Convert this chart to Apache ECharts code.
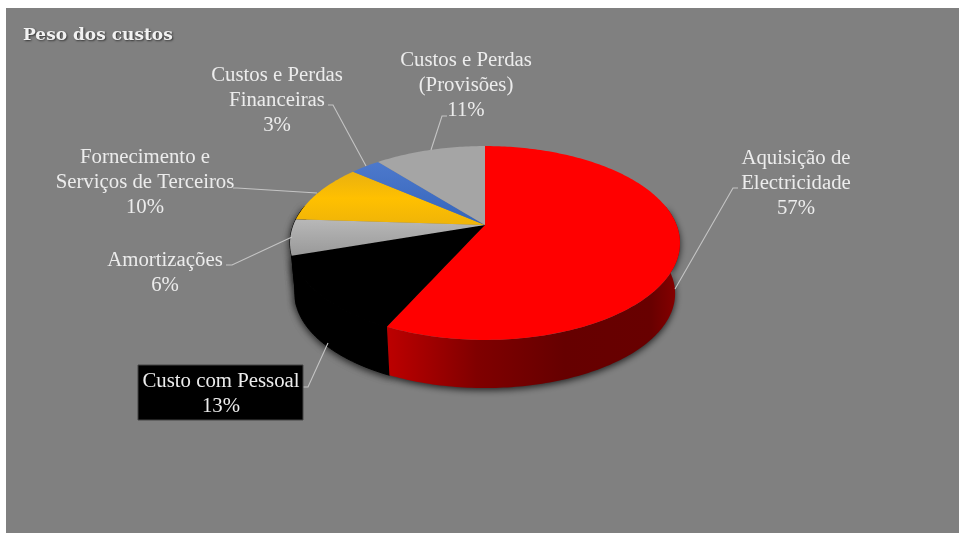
<!DOCTYPE html>
<html>
<head>
<meta charset="utf-8">
<style>html,body{margin:0;padding:0;background:#fff}#c{width:959px;height:533px}</style>
<script src="https://cdn.jsdelivr.net/npm/echarts@6/dist/echarts.min.js"></script>
</head>
<body>
<div id="c"></div>
<script>
const categories = ["Aquisição de\nElectricidade","Custo com Pessoal","Amortizações","Fornecimento e\nServiços de Terceiros","Custos e Perdas\nFinanceiras","Custos e Perdas\n(Provisões)"];
const shares = [57,13,6,10,3,11];
const total = shares.reduce((a,b)=>a+b,0);

const topFills = [
  '#ff0000','#000000',
  {type:'linear',x:0,y:0,x2:0,y2:1,colorStops:[{offset:0,color:'#b8b8b8'},{offset:1,color:'#999999'}]},
  {type:'linear',x:0,y:0,x2:0,y2:1,colorStops:[{offset:0,color:'#e9b010'},{offset:.5,color:'#ffc000'},{offset:1,color:'#efb408'}]},
  {type:'linear',x:0,y:0,x2:0,y2:1,colorStops:[{offset:0,color:'#4d79cc'},{offset:1,color:'#3565bb'}]},
  '#a5a5a5'
];
const sideFills = [
  {type:'linear',x:390,y:0,x2:680,y2:0,global:true,colorStops:[{offset:0,color:'#bb0000'},{offset:.3,color:'#800000'},{offset:.6,color:'#660000'},{offset:.9,color:'#680000'},{offset:1,color:'#8a0000'}]},
  '#000000','#000000','#000000','#000000','#000000'
];
const labelLayout = [
  {x:796,y:184,pts:[[675,289],[733,188],[738,188]]},
  {x:221,y:394,pts:[[328,343],[308,387],[303,387]],box:[138,365,165,55]},
  {x:165,y:248,pts:[[292,237],[232,265],[226,265]],single:true},
  {x:145,y:183,pts:[[317,193],[237,188],[233,188]]},
  {x:277,y:101,pts:[[366,166],[333,105],[328,105]]},
  {x:466,y:86,pts:[[431,150],[442,116],[447,116]]}
];
const CX=485, CY=225, A=191.6, B=93.6, K=0.1856;
function project(deg, scale, dy){
  const r=deg*Math.PI/180, u=Math.sin(r), v=-Math.cos(r), w=1/(1-K*v);
  return [CX+A*scale*u*w, CY+dy+B*scale*v*w];
}
function arc(a0,a1,scale,dy){
  const n=Math.max(2,Math.ceil(Math.abs(a1-a0)));
  const p=[];
  for(let i=0;i<=n;i++) p.push(project(a0+(a1-a0)*i/n,scale,dy));
  return p;
}
const chart = echarts.init(document.getElementById('c'));
const FONT = '20.8px "Liberation Serif"';
function renderSlice(params, api){
  const i=params.dataIndex, val=api.value(0);
  let before=0; for(let j=0;j<i;j++) before+=shares[j];
  const a0=before/total*360, a1=a0+val/total*360;
  const kids=[];
  const s0=Math.max(a0,78), s1=Math.min(a1,282);
  if(s1>s0){
    const pts=arc(s0,s1,1,0).concat(arc(s1,s0,0.975,51));
    const black=sideFills[i]==='#000000';
    kids.push({type:'polygon',z2:i===0?3:2,shape:{points:pts},style:{fill:sideFills[i],stroke:black?'#000':null,lineWidth:1,shadowColor:'rgba(0,0,0,0.75)',shadowBlur:7,shadowOffsetY:2}});
  }
  const topPts=[[CX,CY]].concat(arc(a0,a1,1,0));
  kids.push({type:'polygon',z2:i===1?4:5,shape:{points:topPts},style:{fill:topFills[i],stroke:i===1?'#000':null,lineWidth:1}});
  const L=labelLayout[i];
  kids.push({type:'polyline',z2:6,shape:{points:L.pts},style:{fill:null,stroke:'#c4c4c4',lineWidth:1.1}});
  if(L.box) kids.push({type:'rect',z2:7,shape:{x:L.box[0],y:L.box[1],width:L.box[2],height:L.box[3]},style:{fill:'#000',stroke:'#444',lineWidth:1}});
  kids.push({type:'text',z2:8,style:{text:categories[i]+'\n'+val+'%',x:L.x,y:L.y,align:'center',verticalAlign:L.single?'top':'middle',font:FONT,lineHeight:25,fill:'#ececec'}});
  return {type:'group',children:kids};
}
chart.setOption({
  animation:false,
  backgroundColor:'#ffffff',
  graphic:[{type:'rect',z:-10,silent:true,shape:{x:6,y:8,width:953,height:525},style:{fill:'#808080'}}],
  title:{text:'Peso dos custos',left:18,top:22,textStyle:{fontFamily:'DejaVu Serif',fontWeight:'bold',fontSize:17,color:'#f2f2f2',textShadowColor:'rgba(0,0,0,0.6)',textShadowBlur:2,textShadowOffsetX:1,textShadowOffsetY:1}},
  series:[{type:'custom',coordinateSystem:'none',silent:true,clip:false,data:shares.map(v=>[v]),renderItem:renderSlice}]
});
</script>
</body>
</html>
